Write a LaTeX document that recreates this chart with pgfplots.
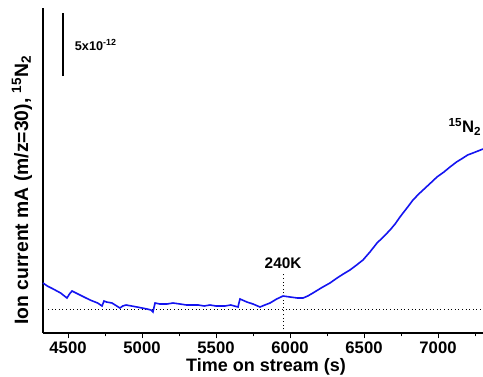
\documentclass[border=0pt]{standalone}
\usepackage{pgfplots}
\pgfplotsset{compat=1.18}
\usepackage{fontspec}
\setmainfont{Liberation Sans}
\usetikzlibrary{calc}
\begin{document}
\begin{tikzpicture}
\begin{axis}[
  scale only axis,
  width=330pt, height=243.75pt,
  xmin=4331, xmax=7304, ymin=0, ymax=325,
  axis x line*=bottom, axis y line*=left,
  axis line style={-, line width=0.8pt},
  ytick=\empty,
  xtick={4500,5000,5500,6000,6500,7000},
  minor xtick={4750,5250,5750,6250,6750,7250},
  tick align=outside,
  major tick length=4pt, minor tick length=2.5pt,
  tick style={black, line width=0.6pt},
  xticklabel style={font=\fontsize{12.5}{14}\selectfont\bfseries, yshift=1pt},
  /pgf/number format/assume math mode=true,
  /pgf/number format/set thousands separator={},
  xlabel={Time on stream (s)},
  xlabel style={font=\fontsize{13.5}{15}\selectfont\bfseries, at={(rel axis cs:0.507,0)}, anchor=south, yshift=-32.2pt, inner sep=0.3pt},
  ylabel={Ion current mA (m/z=30), \textsuperscript{15}N\textsubscript{2}},
  ylabel style={font=\fontsize{14.5}{16}\selectfont\bfseries, at={(rel axis cs:-0.048,0.44)}, anchor=center},
  clip=false,
]
% baseline
\addplot[black, dotted, line width=0.7pt] coordinates {(4365,24) (7304,24)};
% 240K marker
\addplot[black, dotted, line width=0.7pt] coordinates {(5953,0) (5953,61)};
% scale bar
\addplot[black, line width=1.2pt] coordinates {(4466,257) (4466,320)};
\node[anchor=west, font=\fontsize{9.5}{11}\selectfont\bfseries] at (axis cs:4515,288) {5x10\textsuperscript{-12}};
\node[anchor=south, font=\fontsize{11.5}{13}\selectfont\bfseries] at (axis cs:5953,60) {240K};
\node[anchor=east, inner sep=1pt, font=\fontsize{12.5}{14}\selectfont\bfseries] at (axis cs:7304,206) {\textsuperscript{15}N\textsubscript{2}};
% curve
\addplot[color={rgb,255:red,20;green,20;blue,240}, line width=1.2pt] coordinates {
(4331,50) (4360,47) (4400,44) (4450,40) (4493,35) (4510,39) (4527,42)
(4581,38) (4649,33) (4700,30) (4730,27) (4743,32) (4760,31) (4797,30)
(4851,25) (4870,27) (4892,28) (4930,27) (4966,26) (5000,25) (5034,24)
(5060,23) (5074,21) (5080,25) (5088,30) (5120,29) (5169,29) (5210,30)
(5257,29) (5300,28) (5324,28) (5380,28) (5420,27) (5459,28) (5500,27)
(5560,27) (5600,28) (5649,26) (5655,30) (5662,34) (5709,31) (5750,29)
(5797,26) (5830,28) (5865,30) (5910,34) (5953,37) (6000,36) (6050,35)
(6088,35) (6120,37) (6155,40) (6210,45) (6270,50) (6318,55) (6360,59)
(6405,63) (6450,68) (6493,73) (6540,81) (6588,90) (6630,96) (6676,103)
(6710,109) (6743,116) (6790,125) (6831,133) (6870,139) (6899,143) (6950,150)
(6993,156) (7040,161) (7081,166) (7125,171) (7169,175) (7200,178) (7236,180)
(7270,182) (7304,184)
};
\end{axis}
\pgfresetboundingbox
\useasboundingbox ($(current axis.south west)+(-32.25pt,-32.25pt)$) rectangle ($(current axis.north east)+(0pt,6pt)$);
\end{tikzpicture}
\end{document}
